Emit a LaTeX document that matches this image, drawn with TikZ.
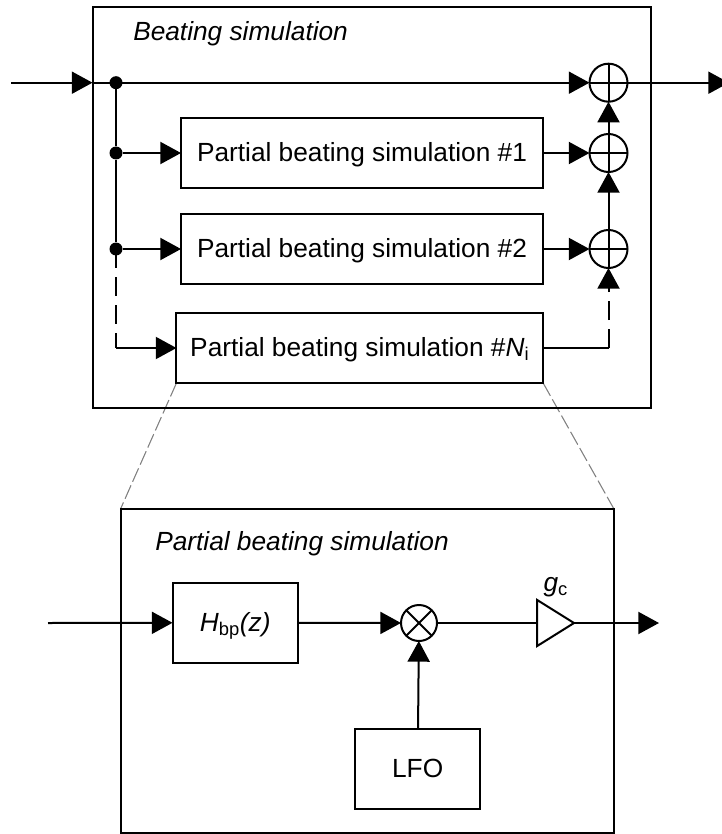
\documentclass[tikz,border=0pt]{standalone}
\usepackage{fontspec}
\setmainfont{Liberation Sans}
\usetikzlibrary{arrows.meta,positioning,calc,shapes.geometric,backgrounds}

\begin{document}
\begin{tikzpicture}[
  x=0.75pt, y=-0.75pt,
  frame/.style={rectangle, draw, line width=1.5pt, inner sep=0pt, outer sep=0pt, anchor=north west},
  blk/.style={rectangle, draw, line width=1.5pt, minimum height=52.5pt, inner sep=0pt, outer sep=0pt, text height=16pt, text depth=3pt, font=\fontsize{19.7}{22}\selectfont},
  sumnode/.style={circle, draw, line width=1.5pt, minimum size=28.5pt, inner sep=0pt, outer sep=0pt},
  dotnode/.style={circle, fill=black, minimum size=9.75pt, inner sep=0pt},
  title/.style={anchor=west, inner sep=0pt, font=\fontsize{19.7}{22}\selectfont\itshape},
  arr/.style={-{Triangle[length=15.5pt, width=16.5pt]}, line width=1.5pt},
  ln/.style={line width=1.5pt},
  dsh/.style={dash pattern=on 14.25pt off 6.75pt},
  zoomln/.style={gray, line width=0.8pt, dash pattern=on 11pt off 3pt}
]
  \useasboundingbox (0,0) rectangle (721,834);

  % upper frame
  \node[frame, minimum width=418.9pt, minimum height=300.4pt] (beat) at (92.5,7.5) {};
  \node[title] (beattitle) at (133,34) {Beating simulation};

  \node[blk, minimum width=271.5pt] (part1) at (362,153) {Partial beating simulation \#1};
  \node[blk, minimum width=271.5pt] (part2) at (362,249) {Partial beating simulation \#2};
  \node[blk, minimum width=275pt]   (partn) at (359.8,348) {Partial beating simulation \#\textit{N}\textsubscript{i}};

  \node[sumnode] (sum1) at (608.5,82.7) {};
  \node[sumnode] (sum2) at (608.5,153) {};
  \node[sumnode] (sum3) at (608.5,249) {};
  \foreach \s in {sum1,sum2,sum3} {
    \draw[ln] (\s.north) -- (\s.south);
    \draw[ln] (\s.west) -- (\s.east);
  }

  \node[dotnode] (dot0) at (116,82.7) {};
  \node[dotnode] (dot1) at (116,153) {};
  \node[dotnode] (dot2) at (116,249) {};

  \coordinate (in0) at (11,82.7);
  \coordinate (out0) at (729,82.7);
  \coordinate (turnl) at (116,348);
  \coordinate (turnr) at (608.5,348);
  \coordinate (edge0) at (92.5,82.7);

  \draw[arr] (in0) -- (edge0);
  \draw[arr] (edge0) -- (sum1.west);
  \draw[arr] (sum1.east) -- (out0);
  \draw[ln] (dot0) -- (dot1);
  \draw[ln] (dot1) -- (dot2);
  \draw[arr] (dot1) -- (part1);
  \draw[arr] (dot2) -- (part2);
  \draw[arr] (part1) -- (sum2);
  \draw[arr] (part2) -- (sum3);
  \draw[arr] (sum2) -- (sum1);
  \draw[arr] (sum3) -- (sum2);
  \draw[ln, dsh] (dot2.center) -- (turnl);
  \draw[arr] (turnl) -- (partn);
  \draw[ln] (partn) -- (turnr);
  \draw[arr, dsh] (turnr) -- (sum3);

  % lower frame
  \node[frame, minimum width=370.1pt, minimum height=243pt] (partial) at (120.5,509) {};
  \node[title] (partialtitle) at (155,543.5) {Partial beating simulation};

  \node[blk, minimum width=94pt, minimum height=60pt, anchor=north west] (bp) at (172.5,582.7) {\textit{H}\textsubscript{bp}\textit{(z)}};
  \node[blk, minimum width=94pt, minimum height=60pt, anchor=north west] (lfo) at (355,728.7) {LFO};
  \node[sumnode, minimum size=27pt] (mult) at (419,623) {};
  \draw[ln] (mult.north east) -- (mult.south west);
  \draw[ln] (mult.north west) -- (mult.south east);
  \node[isosceles triangle, draw, line width=1.5pt, isosceles triangle apex angle=64, minimum height=27.75pt, inner sep=0pt, outer sep=0pt, anchor=apex] (gain) at (574,623) {};
  \node[font=\fontsize{19.7}{22}\selectfont, above=5pt of gain, xshift=4.5pt] (gainlabel) {\textit{g}\textsubscript{c}};

  \coordinate (in1) at (48,623);
  \coordinate (out1) at (659,623);
  \draw[arr] (in1) -- (bp);
  \draw[arr] (bp) -- (mult);
  \draw[ln] (mult) -- (gain);
  \draw[arr] (gain.apex) -- (out1);
  \draw[arr] (lfo) -- (mult);

  % zoom lines
  \begin{scope}[on background layer]
    \draw[zoomln] (partn.south west) -- (partial.north west);
    \draw[zoomln] (partn.south east) -- (partial.north east);
  \end{scope}
\end{tikzpicture}
\end{document}
